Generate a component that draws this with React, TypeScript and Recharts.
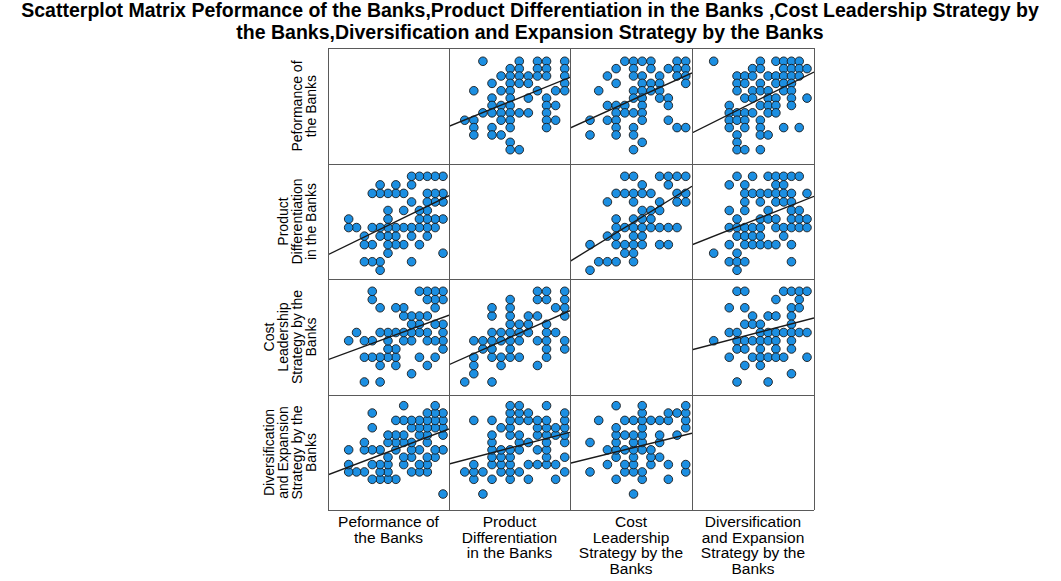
import { ScatterChart, Scatter, XAxis, YAxis } from 'recharts'

// Each variable is plotted on a grid of score levels (0 = lowest observed level).
// Rows: [level of first variable, levels of second variable seen at that level]
const perfProduct: [number, number[]][] = [
  [12, [2, 6, 8, 9, 11]],
  [11, [5, 6, 8, 9, 11]],
  [10, [4, 5, 6, 7, 8, 9, 11]],
  [9, [3, 5, 6, 7, 11]],
  [8, [1, 4, 5, 8, 10, 11]],
  [7, [3, 5, 7, 9]],
  [6, [3, 4, 5, 9, 10]],
  [5, [2, 3, 4, 5, 6, 7, 9]],
  [4, [0, 1, 4, 5, 9, 10]],
  [3, [1, 3, 5, 9]],
  [2, [1, 3, 4]],
  [1, [5]],
  [0, [5, 6]],
]

const perfCost: [number, number[]][] = [
  [12, [4, 5, 6, 7, 10, 11]],
  [11, [3, 5, 7, 9, 10, 11]],
  [10, [2, 5, 6, 8, 10, 11]],
  [9, [3, 6, 7, 8, 11]],
  [8, [1, 5, 6, 7, 8]],
  [7, [5, 6, 8, 9]],
  [6, [2, 3, 4, 6, 9]],
  [5, [3, 4, 5, 6]],
  [4, [0, 2, 3, 6, 9]],
  [3, [3, 5, 10, 11]],
  [2, [0, 3, 5]],
  [1, [6]],
  [0, [5]],
]

const perfDiv: [number, number[]][] = [
  [12, [0, 6, 8, 9, 10, 11]],
  [11, [5, 6, 9, 10, 11, 12]],
  [10, [3, 4, 5, 7, 8, 9, 10, 11]],
  [9, [3, 4, 6, 8, 9, 10]],
  [8, [3, 5, 6, 7, 9, 10]],
  [7, [4, 5, 7, 8, 10, 12]],
  [6, [2, 6, 7, 8, 10]],
  [5, [2, 3, 4, 5, 7, 8]],
  [4, [2, 3, 4, 6]],
  [3, [2, 4, 6, 9, 11]],
  [2, [3, 6, 7]],
  [1, [3]],
  [0, [3, 4, 6]],
]

const productCost: [number, number[]][] = [
  [11, [4, 5, 8, 9, 10, 11]],
  [10, [6, 9]],
  [9, [3, 4, 5, 6, 7, 10, 11]],
  [8, [2, 5, 8, 10, 11]],
  [7, [6, 7, 8]],
  [6, [3, 5, 6, 7]],
  [5, [3, 4, 5, 6, 7, 8, 9, 10]],
  [4, [2, 3, 5, 6]],
  [3, [0, 3, 4, 5, 6, 8, 9]],
  [2, [4, 5]],
  [1, [1, 2, 3, 5]],
  [0, [0]],
]

const productDiv: [number, number[]][] = [
  [11, [3, 5, 7, 8, 9, 10, 11]],
  [10, [2, 4, 8, 9]],
  [9, [4, 5, 6, 7, 8, 9, 10, 12]],
  [8, [4, 6, 8, 9, 10]],
  [7, [2, 4, 7, 10, 11]],
  [6, [3, 6, 7, 8, 10, 11, 12]],
  [5, [2, 3, 4, 5, 6, 8, 9, 10, 11, 12]],
  [4, [3, 4, 5, 6, 9]],
  [3, [2, 4, 5, 6, 7, 8, 10]],
  [2, [0, 3]],
  [1, [2, 3, 4, 10]],
  [0, [3]],
]

const costDiv: [number, number[]][] = [
  [11, [3, 4, 9, 10, 11, 12]],
  [10, [8, 11]],
  [9, [2, 4, 10, 11]],
  [8, [5, 7, 8, 10]],
  [7, [4, 5, 6, 10]],
  [6, [2, 3, 6, 7, 8, 9, 10, 11, 12]],
  [5, [0, 3, 4, 5, 6, 7, 8, 10]],
  [4, [3, 4, 6, 8, 10]],
  [3, [2, 5, 6, 7, 8, 9, 12]],
  [2, [4, 6]],
  [1, [10]],
  [0, [3, 7]],
]

// fit line: y level at the left and right edge of each cell, key = `${row}-${col}`
const fitEnds: Record<string, [number, number]> = {
  '0-1': [3.18, 9.82],
  '0-2': [2.94, 10.41],
  '0-3': [2.27, 10.54],
  '1-0': [1.82, 8.73],
  '1-2': [1.05, 9.83],
  '1-3': [2.99, 8.66],
  '2-0': [2.7, 8.09],
  '2-1': [2.1, 8.65],
  '2-3': [3.91, 7.76],
  '3-0': [2.62, 8.83],
  '3-1': [4.08, 8.38],
  '3-2': [4.17, 8.25],
}

const labels = [
  ['Peformance of', 'the Banks'],
  ['Product', 'Differentiation', 'in the Banks'],
  ['Cost', 'Leadership', 'Strategy by the', 'Banks'],
  ['Diversification', 'and Expansion', 'Strategy by the', 'Banks'],
]

const titleLines = [
  'Scatterplot Matrix Peformance of the Banks,Product Differentiation in the Banks ,Cost Leadership Strategy by',
  'the Banks,Diversification and Expansion Strategy by the Banks',
]

const pairs: Record<string, [number, number[]][]> = {
  '0-1': perfProduct,
  '0-2': perfCost,
  '0-3': perfDiv,
  '1-2': productCost,
  '1-3': productDiv,
  '2-3': costDiv,
}

// axis ranges per variable, as columns (x) and as rows (y)
const xDomains: [number, number][] = [[-2.63, 12.76], [-1.73, 11.58], [-2.3, 11.72], [-2.79, 12.9]]
const yDomains: [number, number][] = [[-1.94, 13.8], [-1.02, 12.44], [-1.58, 12.49], [-2.17, 13.45]]

const COLS = [328, 449, 570, 692, 814]
const ROWS = [48, 164, 279, 395, 510]
const FONT = '"Liberation Sans", Arial, sans-serif'

const flatten = (rows: [number, number[]][]) =>
  rows.flatMap(([a, bs]) => bs.map((b) => [a, b] as [number, number]))

const cellPoints = (r: number, c: number) => {
  const i = Math.min(r, c)
  const j = Math.max(r, c)
  const pts = flatten(pairs[`${i}-${j}`])
  return pts.map(([a, b]) => (c < r ? { x: a, y: b } : { x: b, y: a }))
}

const Dot = (props: any) => (
  <circle cx={props.cx} cy={props.cy} r={4.3} fill="#1c8fe2" stroke="#1a1a1a" strokeWidth={0.9} />
)

const Cell = ({ r, c }: { r: number; c: number }) => {
  const pts = cellPoints(r, c)
  const xd = xDomains[c]
  const yd = yDomains[r]
  const ends = fitEnds[`${r}-${c}`]
  const fit = [
    { x: xd[0], y: ends[0] },
    { x: xd[1], y: ends[1] },
  ]
  return (
    <div style={{ position: 'absolute', left: COLS[c], top: ROWS[r] }}>
      <ScatterChart
        width={COLS[c + 1] - COLS[c]}
        height={ROWS[r + 1] - ROWS[r]}
        margin={{ top: 0, right: 0, bottom: 0, left: 0 }}
      >
        <XAxis type="number" dataKey="x" domain={xd} hide allowDataOverflow />
        <YAxis type="number" dataKey="y" domain={yd} hide allowDataOverflow />
        <Scatter data={pts} shape={Dot} isAnimationActive={false} />
        <Scatter
          data={fit}
          line={{ stroke: '#1a1a1a', strokeWidth: 1.4 }}
          shape={() => <g />}
          isAnimationActive={false}
        />
      </ScatterChart>
    </div>
  )
}

export default function App() {
  const cells = []
  for (let r = 0; r < 4; r++) {
    for (let c = 0; c < 4; c++) {
      if (r !== c) cells.push(<Cell key={`${r}-${c}`} r={r} c={c} />)
    }
  }
  return (
    <div style={{ position: 'absolute', left: 0, top: 0, width: 1061, height: 581, background: '#fff' }}>
      {cells}
      <svg width={1061} height={581} style={{ position: 'absolute', left: 0, top: 0, pointerEvents: 'none' }}>
        {COLS.map((x) => (
          <line key={`v${x}`} x1={x + 0.5} x2={x + 0.5} y1={ROWS[0]} y2={ROWS[4]} stroke="#5a5a5a" strokeWidth={1} />
        ))}
        {ROWS.map((y) => (
          <line key={`h${y}`} x1={COLS[0]} x2={COLS[4]} y1={y + 0.5} y2={y + 0.5} stroke="#5a5a5a" strokeWidth={1} />
        ))}
        {titleLines.map((t, k) => (
          <text key={t} x={530} y={17 + k * 22} textAnchor="middle" fontFamily={FONT} fontWeight="bold" fontSize={19.5} fill="#000">
            {t}
          </text>
        ))}
        {labels.map((lines, r) => {
          const cy = (ROWS[r] + ROWS[r + 1]) / 2
          return lines.map((t, k) => {
            const bx = 316 - (lines.length - 1 - k) * 14
            return (
              <text key={`r${r}${k}`} x={bx} y={cy} transform={`rotate(-90 ${bx} ${cy})`} textAnchor="middle" fontFamily={FONT} fontSize={14} fill="#000">
                {t}
              </text>
            )
          })
        })}
        {labels.map((lines, c) => {
          const cx = (COLS[c] + COLS[c + 1]) / 2
          return lines.map((t, k) => (
            <text key={`c${c}${k}`} x={cx} y={527 + k * 15.5} textAnchor="middle" fontFamily={FONT} fontSize={15.5} fill="#000">
              {t}
            </text>
          ))
        })}
      </svg>
    </div>
  )
}
